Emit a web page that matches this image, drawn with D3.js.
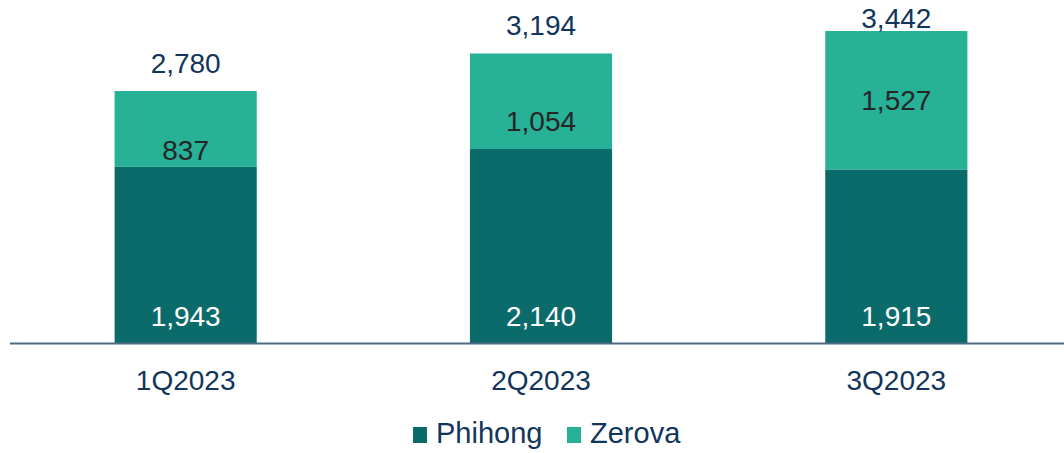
<!DOCTYPE html>
<html lang="en">
<head>
    <meta charset="utf-8">
    <title>Phihong / Zerova quarterly</title>
    <style>
        body {
            margin: 0;
            background: #fff;
            font-family: "Liberation Sans", Arial, sans-serif;
        }
    </style>
</head>
<body>
    <div id="chart"></div>
    <script src="https://cdnjs.cloudflare.com/ajax/libs/d3/7.8.5/d3.min.js"></script>
    <script>
        // Data
        const quarters = ["1Q2023", "2Q2023", "3Q2023"];
        const phihong = [1943, 2140, 1915];
        const zerova = [837, 1054, 1527];
        const seriesNames = ["Phihong", "Zerova"];

        // where the Zerova label sits inside its segment (0 = top, 1 = bottom)
        const zerovaLabelPos = [0.78, 0.71, 0.5];

        const width = 1064, height = 453;
        const colors = { Phihong: "#0b6b6b", Zerova: "#27b196" };
        const baseY = 343;

        const svg = d3.select("#chart").append("svg")
            .attr("width", width)
            .attr("height", height);

        const x = d3.scaleBand()
            .domain(quarters)
            .range([8, 1074])
            .paddingInner(0.6)
            .paddingOuter(0.3);

        const y = d3.scaleLinear()
            .domain([0, 3784])
            .range([baseY, 0]);

        const rows = quarters.map((q, i) => ({ q, Phihong: phihong[i], Zerova: zerova[i], i }));
        const stacked = d3.stack().keys(seriesNames)(rows);

        // Bars
        svg.append("g")
            .selectAll("g")
            .data(stacked)
            .join("g")
            .attr("fill", d => colors[d.key])
            .selectAll("rect")
            .data(d => d)
            .join("rect")
            .attr("x", d => x(d.data.q))
            .attr("y", d => y(d[1]))
            .attr("width", x.bandwidth())
            .attr("height", d => y(d[0]) - y(d[1]));

        // Axis line
        svg.append("line")
            .attr("x1", 10).attr("x2", width)
            .attr("y1", baseY + 0.5).attr("y2", baseY + 0.5)
            .attr("stroke", "#4f6b84")
            .attr("stroke-width", 2);

        const fmt = d3.format(",");

        // Phihong labels (inside base)
        svg.append("g")
            .selectAll("text")
            .data(stacked[0])
            .join("text")
            .attr("x", d => x(d.data.q) + x.bandwidth() / 2)
            .attr("y", d => y(d[0]) - 17)
            .attr("text-anchor", "middle")
            .attr("font-size", 28)
            .attr("fill", "#ffffff")
            .text(d => fmt(d.data.Phihong));

        // Zerova labels
        svg.append("g")
            .selectAll("text")
            .data(stacked[1])
            .join("text")
            .attr("x", d => x(d.data.q) + x.bandwidth() / 2)
            .attr("y", (d, i) => y(d[1]) + (y(d[0]) - y(d[1])) * zerovaLabelPos[i])
            .attr("dy", "0.35em")
            .attr("text-anchor", "middle")
            .attr("font-size", 28)
            .attr("fill", "#262626")
            .text(d => fmt(d.data.Zerova));

        // Totals
        svg.append("g")
            .selectAll("text")
            .data(rows)
            .join("text")
            .attr("x", d => x(d.q) + x.bandwidth() / 2)
            .attr("y", d => Math.max(y(d.Phihong + d.Zerova) - 18, 28))
            .attr("text-anchor", "middle")
            .attr("font-size", 28)
            .attr("fill", "#12355b")
            .text(d => fmt(d.Phihong + d.Zerova));

        // Category labels
        svg.append("g")
            .selectAll("text")
            .data(quarters)
            .join("text")
            .attr("x", d => x(d) + x.bandwidth() / 2)
            .attr("y", 390)
            .attr("text-anchor", "middle")
            .attr("font-size", 28)
            .attr("fill", "#12355b")
            .text(d => d);

        // Legend
        const legendX = [413, 567];
        const legend = svg.append("g")
            .selectAll("g")
            .data(seriesNames)
            .join("g")
            .attr("transform", (d, i) => `translate(${legendX[i]},0)`);
        legend.append("rect")
            .attr("x", 0).attr("y", 427)
            .attr("width", 14).attr("height", 16)
            .attr("fill", d => colors[d]);
        legend.append("text")
            .attr("x", 23).attr("y", 443)
            .attr("font-size", 29)
            .attr("fill", "#12355b")
            .text(d => d);
    </script>
</body>
</html>
